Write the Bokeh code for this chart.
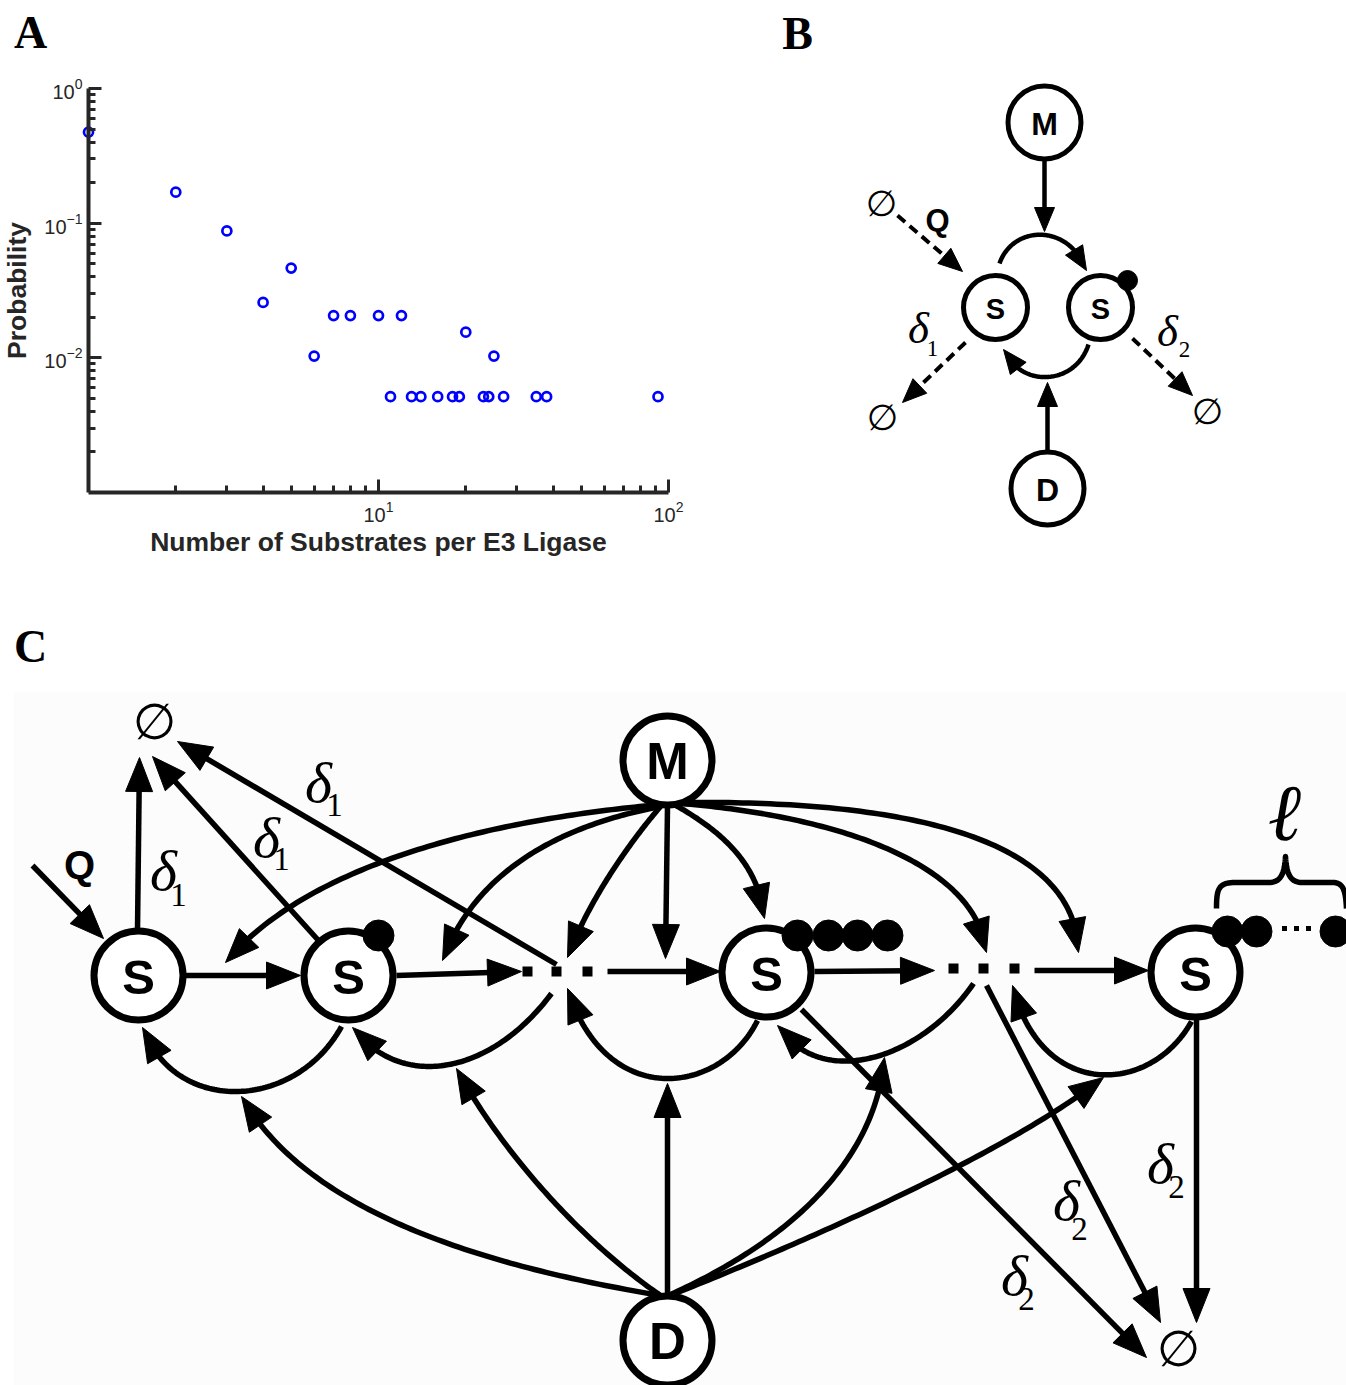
import numpy as np
from bokeh.plotting import figure
from bokeh.models import Range1d, FixedTicker
from bokeh.layouts import column, row
from bokeh.embed import file_html
from bokeh.resources import INLINE
from bokeh.core.properties import value

# ---------------- Panel A data ----------------
substrates_per_e3 = [1, 2, 3, 4, 5, 6, 7, 8, 10, 11, 12, 13, 14, 16, 18, 19, 20,
                     23, 24, 25, 27, 35, 38, 92]
probability = [0.474, 0.170, 0.0876, 0.0258, 0.0464, 0.0103, 0.0206, 0.0206, 0.0206,
               0.00515, 0.0206, 0.00515, 0.00515, 0.00515, 0.00515, 0.00515, 0.0155,
               0.00515, 0.00515, 0.0103, 0.00515, 0.00515, 0.00515, 0.00515]
x_major_ticks = [10, 100]
x_minor_ticks = [2, 3, 4, 5, 6, 7, 8, 9, 20, 30, 40, 50, 60, 70, 80, 90]
x_tick_labels = {"10": "10\u00b9", "100": "10\u00b2"}
y_major_ticks = [0.01, 0.1, 1]
y_minor_ticks = [0.002, 0.003, 0.004, 0.005, 0.006, 0.007, 0.008, 0.009,
                 0.02, 0.03, 0.04, 0.05, 0.06, 0.07, 0.08, 0.09,
                 0.2, 0.3, 0.4, 0.5, 0.6, 0.7, 0.8, 0.9]
y_tick_labels = {"0.01": "10\u207b\u00b2", "0.1": "10\u207b\u00b9", "1": "10\u2070"}
x_limits = (1, 100)
y_limits = (0.001, 1)
x_title = "Number of Substrates per E3 Ligase"
y_title = "Probability"

SANS = "Liberation Sans"
SERIF = "Liberation Serif"
AXC = "#262626"

# panel A geometry (pixels inside its 720x575 canvas)
A_W, A_H = 720, 575
AX_LEFT, AX_RIGHT, AX_TOP, AX_BOTTOM = 88, 668, 88, 492

# ---------------- helpers ----------------
def bez(p0, c1, c2, p3, n=90):
    t = np.linspace(0, 1, n)[:, None]
    p0, c1, c2, p3 = (np.asarray(v, float) for v in (p0, c1, c2, p3))
    return (1 - t) ** 3 * p0 + 3 * (1 - t) ** 2 * t * c1 + 3 * (1 - t) * t ** 2 * c2 + t ** 3 * p3


def seg(a, b):
    return np.array([a, b], float)


def back_along(pts, d):
    acc = 0.0
    for i in range(len(pts) - 1, 0, -1):
        a, b = pts[i], pts[i - 1]
        l = float(np.hypot(*(b - a)))
        if l > 0 and acc + l >= d:
            f = (d - acc) / l
            return a + f * (b - a), i - 1
        acc += l
    return pts[0], 0


class Ink:
    def __init__(self, L, W):
        self.L, self.W = L, W
        self.lx, self.ly, self.hx, self.hy = [], [], [], []

    def path(self, pts):
        pts = np.asarray(pts, float)
        self.lx.append(pts[:, 0].tolist())
        self.ly.append(pts[:, 1].tolist())

    def arrow(self, pts):
        pts = np.asarray(pts, float)
        tip = pts[-1]
        q, _ = back_along(pts, self.L)
        u = tip - q
        u = u / np.hypot(*u)
        nrm = np.array([-u[1], u[0]])
        base = tip - self.L * u
        p1 = base + self.W * nrm
        p2 = base - self.W * nrm
        self.hx.append([float(tip[0]), float(p1[0]), float(p2[0])])
        self.hy.append([float(tip[1]), float(p1[1]), float(p2[1])])
        cut, i = back_along(pts, self.L * 0.7)
        self.path(np.vstack([pts[: i + 1], cut]))

    def render(self, p, lw, dash="solid"):
        p.multi_line(self.lx, self.ly, line_color="black", line_width=lw,
                     line_dash=dash, line_join="round")
        if self.hx:
            p.patches(self.hx, self.hy, fill_color="black", line_color="black",
                      line_width=1, line_join="miter")


def canvas(w, h, x0, y0):
    p = figure(width=w, height=h, x_range=Range1d(x0, x0 + w), y_range=Range1d(y0 + h, y0),
               output_backend="svg", toolbar_location=None, tools="", min_border=0,
               x_axis_location=None, y_axis_location=None,
               background_fill_color="white", border_fill_color="white")
    p.grid.visible = False
    p.outline_line_color = None
    return p


def txt(p, x, y, s, size, font=SANS, style="bold", baseline="middle", align="center"):
    p.text(x=[x], y=[y], text=[s], text_font=value(font), text_font_style=style,
           text_font_size=size, text_align=align, text_baseline=baseline, text_color="black")


def delta(p, dpos, spos, sub, size, subsize):
    txt(p, dpos[0], dpos[1], "\u03b4", size, font=SERIF, style="italic")
    txt(p, spos[0], spos[1], sub, subsize, font=SERIF, style="normal")


# ---------------- Panel A ----------------
lx0, lx1 = np.log10(x_limits[0]), np.log10(x_limits[1])
ly0, ly1 = np.log10(y_limits[0]), np.log10(y_limits[1])
xdec = (AX_RIGHT - AX_LEFT) / (lx1 - lx0)
ydec = (AX_BOTTOM - AX_TOP) / (ly1 - ly0)
xr = (10 ** (lx0 - AX_LEFT / xdec), 10 ** (lx1 + (A_W - AX_RIGHT) / xdec))
yr = (10 ** (ly0 - (A_H - AX_BOTTOM) / ydec), 10 ** (ly1 + AX_TOP / ydec))


def a_px(px, py):
    return (10 ** (lx0 + (px - AX_LEFT) / xdec), 10 ** (ly1 - (py - AX_TOP) / ydec))


pA = figure(width=A_W, height=A_H, x_axis_type="log", y_axis_type="log",
            x_range=Range1d(*xr), y_range=Range1d(*yr),
            output_backend="svg", toolbar_location=None, tools="", min_border=0,
            background_fill_color="white", border_fill_color="white")
pA.outline_line_color = None
pA.grid.visible = False
pA.scatter(substrates_per_e3, probability, marker="circle", size=9, fill_color=None,
           line_color="#0000ff", line_width=2.7)
pA.xaxis.ticker = FixedTicker(ticks=x_major_ticks, minor_ticks=x_minor_ticks)
pA.yaxis.ticker = FixedTicker(ticks=y_major_ticks, minor_ticks=y_minor_ticks)
pA.xaxis.major_label_overrides = x_tick_labels
pA.yaxis.major_label_overrides = y_tick_labels
pA.xaxis.axis_label = x_title
pA.yaxis.axis_label = y_title
pA.xaxis.fixed_location = y_limits[0]
pA.yaxis.fixed_location = x_limits[0]
pA.xaxis.bounds = x_limits
pA.yaxis.bounds = y_limits
for ax in (pA.xaxis[0], pA.yaxis[0]):
    ax.axis_line_width = 4
    ax.axis_line_color = AXC
    ax.major_tick_line_color = AXC
    ax.minor_tick_line_color = AXC
    ax.major_tick_line_width = 3
    ax.minor_tick_line_width = 3
    ax.major_tick_in = 13
    ax.major_tick_out = 0
    ax.minor_tick_in = 7
    ax.minor_tick_out = 0
    ax.major_label_text_font = SANS
    ax.major_label_text_font_size = "20px"
    ax.major_label_text_color = AXC
    ax.axis_label_text_font = SANS
    ax.axis_label_text_font_size = "26.5px"
    ax.axis_label_text_font_style = "bold"
    ax.axis_label_text_color = AXC
pA.yaxis.major_label_standoff = 6
pA.yaxis.axis_label_standoff = 9
pA.xaxis.major_label_standoff = 8
pA.xaxis.axis_label_standoff = 2
ax_, ay_ = a_px(30, 32)
txt(pA, ax_, ay_, "A", "46px", font=SERIF)

# ---------------- Panel B ----------------
pB = canvas(626, 575, 720, 0)
txt(pB, 797, 33, "B", "46px", font=SERIF)

inkB = Ink(24, 10)
inkB.arrow(seg((1044, 160), (1044, 231)))
inkB.arrow(seg((1047, 451), (1047, 382)))
inkB.arrow(bez((999, 263), (1012, 225), (1068, 222), (1086, 270)))
inkB.arrow(bez((1088, 344), (1075, 385), (1020, 388), (1003, 349)))
inkB.render(pB, 4.5)
dashB = Ink(24, 10)
dashB.arrow(seg((897, 215), (962, 271)))
dashB.arrow(seg((965, 342), (902, 402)))
dashB.arrow(seg((1132, 338), (1192, 395)))
dashB.render(pB, 4, dash="10 6")

pB.circle(x=[1044, 1047], y=[122, 488], radius=36.5, fill_color="white",
          line_color="black", line_width=5)
pB.circle(x=[995, 1100], y=[307, 307], radius=32, fill_color="white",
          line_color="black", line_width=5)
pB.circle(x=[1127], y=[280], radius=10, fill_color="black", line_color="black")
txt(pB, 1044, 123, "M", "32px")
txt(pB, 995, 308, "S", "29px")
txt(pB, 1100, 308, "S", "29px")
txt(pB, 1047, 489, "D", "32px")
txt(pB, 937, 220, "Q", "31px")
for (ex, ey) in [(881, 203), (882, 417), (1207, 411)]:
    txt(pB, ex, ey, "\u2205", "36px", font="DejaVu Sans", style="normal")
delta(pB, (918, 327), (932, 348), "1", "45px", "23px")
delta(pB, (1167, 330), (1184, 349), "2", "45px", "23px")

# ---------------- Panel C ----------------
pC = canvas(1346, 810, 0, 575)
pC.quad(left=[13], right=[1346], top=[692], bottom=[1385], fill_color="#fcfcfc", line_color=None)
txt(pC, 30, 646, "C", "46px", font=SERIF)

inkC = Ink(34, 13.5)
# M fan-out
inkC.arrow(bez((661, 804), (500, 818), (310, 860), (225, 962)))
inkC.arrow(bez((660, 806), (560, 825), (475, 870), (442, 960)))
inkC.arrow(bez((660, 806), (635, 835), (590, 895), (567, 957)))
inkC.arrow(seg((667, 806), (665, 958)))
inkC.arrow(bez((672, 803), (720, 830), (758, 862), (764, 918)))
inkC.arrow(bez((680, 803), (830, 815), (975, 860), (986, 952)))
inkC.arrow(bez((685, 802), (900, 800), (1075, 835), (1078, 952)))
# D fan-out
inkC.arrow(bez((660, 1295), (450, 1260), (300, 1200), (241, 1096)))
inkC.arrow(bez((660, 1295), (580, 1240), (500, 1150), (456, 1068)))
inkC.arrow(seg((667, 1294), (667, 1083)))
inkC.arrow(bez((670, 1294), (790, 1240), (875, 1160), (884, 1057)))
inkC.arrow(bez((672, 1294), (820, 1235), (1010, 1150), (1103, 1077)))
# demodification loops
inkC.arrow(bez((341, 1026), (295, 1110), (175, 1115), (142, 1027)))
inkC.arrow(bez((551, 993), (490, 1075), (400, 1090), (352, 1027)))
inkC.arrow(bez((757, 1020), (720, 1095), (605, 1110), (567, 988)))
inkC.arrow(bez((973, 983), (920, 1060), (820, 1090), (777, 1025)))
inkC.arrow(bez((1191, 1021), (1150, 1095), (1040, 1100), (1012, 985)))
# chain
inkC.arrow(seg((32, 865), (103, 938)))
inkC.arrow(seg((184, 975), (300, 975)))
inkC.arrow(seg((396, 975), (521, 971)))
inkC.arrow(seg((607, 971), (720, 971)))
inkC.arrow(seg((814, 971), (934, 970)))
inkC.arrow(seg((1034, 970), (1148, 970)))
# degradation
inkC.arrow(seg((137, 930), (139, 757)))
inkC.arrow(seg((318, 940), (152, 756)))
inkC.arrow(seg((556, 964), (177, 741)))
inkC.arrow(seg((801, 1009), (1146, 1357)))
inkC.arrow(seg((986, 985), (1160, 1322)))
inkC.arrow(seg((1196, 1018), (1196, 1322)))
# brace over the chain of the last substrate
brace = np.vstack([
    bez((1216, 908), (1216, 888), (1218, 882), (1235, 882), 20),
    bez((1268, 882), (1280, 882), (1284, 874), (1285, 856), 20),
    bez((1285, 856), (1286, 874), (1290, 882), (1302, 882), 20),
    bez((1332, 882), (1343, 882), (1345, 890), (1346, 908), 20),
])
inkC.path(brace)
inkC.render(pC, 5.5)

pC.circle(x=[138, 348, 766, 1195, 667, 667], y=[975, 975, 972, 972, 760, 1340],
          radius=44.5, fill_color="white", line_color="black", line_width=7)
pC.circle(x=[378, 797, 828, 857, 887, 1227, 1256, 1335],
          y=[935, 935, 935, 935, 935, 931, 931, 931],
          radius=15.5, fill_color="black", line_color="black", line_width=1)
pC.scatter(x=[527, 556, 587, 953, 983, 1014], y=[971, 971, 971, 968, 968, 968],
           marker="square", size=10, fill_color="black", line_color=None)
pC.scatter(x=[1284, 1296, 1308], y=[928, 928, 928], marker="square", size=5,
           fill_color="black", line_color=None)
for (sx, sy) in [(138, 975), (348, 975), (766, 972), (1195, 972)]:
    txt(pC, sx, sy + 1, "S", "49px")
txt(pC, 667, 761, "M", "51px")
txt(pC, 667, 1341, "D", "51px")
txt(pC, 79, 864, "Q", "40px")
for (ex, ey) in [(154, 721), (1178, 1348)]:
    txt(pC, ex, ey, "\u2205", "50px", font="DejaVu Sans", style="normal")
txt(pC, 1284, 812, "\u2113", "80px", font=SERIF, style="italic")
delta(pC, (163, 870), (178, 894), "1", "58px", "33px")
delta(pC, (266, 837), (281, 858), "1", "58px", "33px")
delta(pC, (318, 782), (334, 804), "1", "58px", "33px")
delta(pC, (1160, 1163), (1176, 1186), "2", "58px", "33px")
delta(pC, (1066, 1200), (1079, 1228), "2", "58px", "33px")
delta(pC, (1014, 1275), (1026, 1298), "2", "58px", "33px")

layout = column(row(pA, pB), pC)
open("out.html", "w").write(file_html(layout, INLINE))
